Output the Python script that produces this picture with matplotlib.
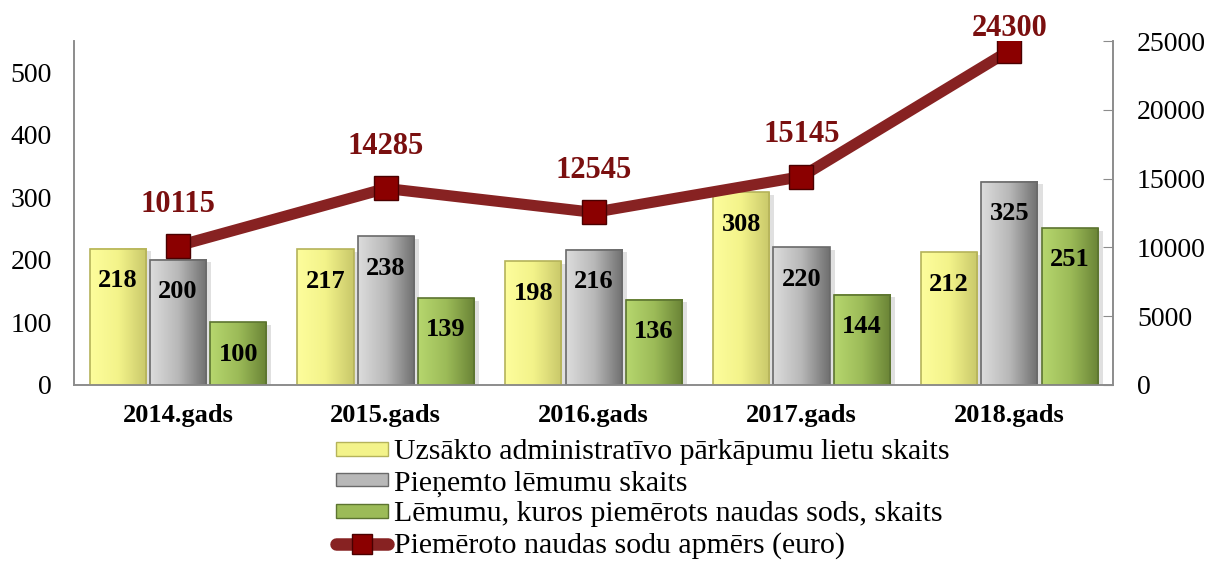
import numpy as np
import matplotlib
matplotlib.use("Agg")
import matplotlib.pyplot as plt
from matplotlib.colors import LinearSegmentedColormap
from matplotlib.patches import Patch
from matplotlib.lines import Line2D

# data
years = ["2014.gads", "2015.gads", "2016.gads", "2017.gads", "2018.gads"]
started = [218, 217, 198, 308, 212]
decisions = [200, 238, 216, 220, 325]
fined = [100, 139, 136, 144, 251]
fine_sum = [10115, 14285, 12545, 15145, 24300]

labels = ["Uzsākto administratīvo pārkāpumu lietu skaits",
          "Pieņemto lēmumu skaits",
          "Lēmumu, kuros piemērots naudas sods, skaits",
          "Piemēroto naudas sodu apmērs (euro)"]

# light -> dark gradients for the bars
grads = [["#fdfd9c", "#f3f38a", "#c9c86a"],
         ["#dcdcdc", "#b8b8b8", "#707070"],
         ["#b6d66e", "#9cbb58", "#6a8436"]]
edges = ["#b5b35a", "#6a6a6a", "#5c7430"]
line_col = "#872222"

plt.rcParams["font.family"] = ["Liberation Serif", "DejaVu Serif"]

fig = plt.figure(figsize=(12.14, 5.62), dpi=100)
ax = fig.add_axes([0.061, 0.315, 0.856, 0.612])
ax2 = ax.twinx()

x = np.arange(len(years))
w = 0.27
step = 0.29
series = [started, decisions, fined]
for i, vals in enumerate(series):
    pos = x + (i - 1) * step
    cmap = LinearSegmentedColormap.from_list("g%d" % i, grads[i])
    g = np.linspace(0, 1, 64).reshape(1, -1)
    # soft shadow
    ax.bar(pos + 0.025, vals, w, bottom=-4, color="#000000", alpha=0.12, zorder=1)
    bars = ax.bar(pos, vals, w, facecolor="none", edgecolor=edges[i], linewidth=1.2, zorder=3)
    for b, v in zip(bars, vals):
        ax.imshow(g, extent=[b.get_x(), b.get_x() + w, 0, v], aspect="auto",
                  cmap=cmap, zorder=2, interpolation="bicubic")
        ax.annotate(str(v), (b.get_x() + w / 2, v), xytext=(0, -23),
                    textcoords="offset points", ha="center", va="center",
                    fontsize=19, fontweight="bold", color="black", zorder=5)

ax2.plot(x, fine_sum, color=line_col, lw=8, solid_capstyle="round", zorder=4,
         marker="s", markersize=17, markerfacecolor="#8b0000",
         markeredgecolor="#4a0000", markeredgewidth=1)
for xi, v in zip(x, fine_sum):
    # keep the top label inside the figure, as the original does
    off = 16 if v > 23000 else 30
    ax2.annotate(str(v), (xi, v), xytext=(0, off), textcoords="offset points",
                 ha="center", va="center", fontsize=22, fontweight="bold",
                 color="#7a0f0f")

ax.set_xlim(-0.5, len(years) - 0.5)
ax.set_ylim(0, 550)
ax2.set_ylim(0, 25000)
ax.set_yticks([0, 100, 200, 300, 400, 500])
ax2.set_yticks([0, 5000, 10000, 15000, 20000, 25000])
ax.set_xticks(x)
ax.set_xticklabels(years, fontsize=19, fontweight="bold")
ax.tick_params(axis="x", length=0, pad=14)
ax.tick_params(axis="y", length=0, labelsize=20, pad=16)
ax2.tick_params(axis="y", direction="in", length=7, color="#8c8c8c",
                labelsize=20, pad=17)

ax.set_zorder(ax2.get_zorder() - 1)
ax2.patch.set_visible(False)
ax.patch.set_visible(False)
for a in (ax, ax2):
    a.spines["top"].set_visible(False)
    for s in ("left", "right", "bottom"):
        a.spines[s].set_color("#8c8c8c")
        a.spines[s].set_linewidth(1.2)

handles = [Patch(facecolor=grads[i][1], edgecolor=edges[i]) for i in range(3)]
handles.append(Line2D([0], [0], color=line_col, lw=9, solid_capstyle="round",
                      marker="s", markersize=15, markerfacecolor="#8b0000",
                      markeredgecolor="#4a0000"))
fig.legend(handles, labels, loc="upper left", bbox_to_anchor=(0.277, 0.218),
           frameon=False, fontsize=21.5, handlelength=1.74, handleheight=0.33,
           handletextpad=0.2, labelspacing=0.16, borderaxespad=0, borderpad=0)

fig.savefig("out.png", dpi=100)
